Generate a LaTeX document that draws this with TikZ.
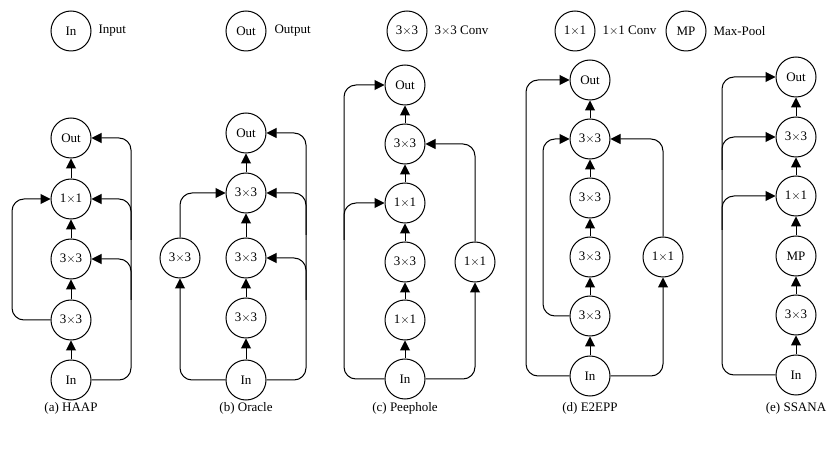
\documentclass[tikz,border=0pt]{standalone}
\usepackage{fontspec}
\setmainfont{Liberation Serif}
\usetikzlibrary{arrows.meta}
\begin{document}
\begin{tikzpicture}[x=1pt,y=-1pt,
  op/.style={draw,circle,line width=1pt,minimum size=40pt,inner sep=0pt,font=\fontsize{13}{15}\selectfont},
  arr/.style={line width=1pt,-{Triangle[length=10pt,width=10pt]},rounded corners=12pt},
  lbl/.style={font=\fontsize{13}{15}\selectfont,anchor=west},
  captxt/.style={font=\fontsize{13}{15}\selectfont}]
\useasboundingbox (0,0) rectangle (831,449);
% legend
\node[op] (lin) at (71,31) {In}; \node[lbl] at (95,31) {Input};
\node[op] (lout) at (246,31) {Out}; \node[lbl] at (271,31) {Output};
\node[op] (l33) at (407,31) {3$\times$3}; \node[lbl] at (431,31) {3$\times$3 Conv};
\node[op] (l11) at (575,31) {1$\times$1}; \node[lbl] at (599,31) {1$\times$1 Conv};
\node[op] (lmp) at (686,31) {MP}; \node[lbl] at (710,31) {Max-Pool};
% (a)
\node[op] (a0) at (71,380) {In};
\node[op] (a1) at (71,320) {3$\times$3};
\node[op] (a2) at (71,259) {3$\times$3};
\node[op] (a3) at (71,199) {1$\times$1};
\node[op] (a4) at (71,138) {Out};
\foreach \i/\j in {0/1,1/2,2/3,3/4} \draw[arr] (a\i) -- (a\j);
\draw[arr] (a0.east) -- (131,380) -- (131,138) -- (a4.east);
\draw[arr] (131,300) |- (a2.east);
\draw[arr] (131,240) |- (a3.east);
\draw[arr] (a1.west) -- (12,320) -- (12,199) -- (a3.west);
\node[captxt] (ca) at (71,408) {(a) HAAP};
% (b)
\node[op] (b0) at (246,380) {In};
\node[op] (b1) at (246,318) {3$\times$3};
\node[op] (b2) at (246,258) {3$\times$3};
\node[op] (b3) at (246,193) {3$\times$3};
\node[op] (b4) at (246,133) {Out};
\node[op] (bs) at (180,258) {3$\times$3};
\foreach \i/\j in {0/1,1/2,2/3,3/4} \draw[arr] (b\i) -- (b\j);
\draw[arr] (b0.east) -- (306,380) -- (306,133) -- (b4.east);
\draw[arr] (306,300) |- (b2.east);
\draw[arr] (306,235) |- (b3.east);
\draw[arr] (b0.west) -| (bs.south);
\draw[arr] (bs.north) |- (b3.west);
\node[captxt] (cb) at (246,408) {(b) Oracle};
% (c)
\node[op] (c0) at (405,379) {In};
\node[op] (c1) at (405,320) {1$\times$1};
\node[op] (c2) at (405,262) {3$\times$3};
\node[op] (c3) at (405,203) {1$\times$1};
\node[op] (c4) at (405,144) {3$\times$3};
\node[op] (c5) at (405,85) {Out};
\node[op] (cs) at (475,262) {1$\times$1};
\foreach \i/\j in {0/1,1/2,2/3,3/4,4/5} \draw[arr] (c\i) -- (c\j);
\draw[arr] (c0.west) -- (344,379) -- (344,85) -- (c5.west);
\draw[arr] (344,240) |- (c3.west);
\draw[arr] (c0.east) -| (cs.south);
\draw[arr] (cs.north) |- (c4.east);
\node[captxt] (cc) at (405,408) {(c) Peephole};
% (d)
\node[op] (d0) at (590,376) {In};
\node[op] (d1) at (590,316) {3$\times$3};
\node[op] (d2) at (590,257) {3$\times$3};
\node[op] (d3) at (590,198) {3$\times$3};
\node[op] (d4) at (590,139) {3$\times$3};
\node[op] (d5) at (590,80) {Out};
\node[op] (ds) at (663,257) {1$\times$1};
\foreach \i/\j in {0/1,1/2,2/3,3/4,4/5} \draw[arr] (d\i) -- (d\j);
\draw[arr] (d0.west) -- (526,376) -- (526,80) -- (d5.west);
\draw[arr] (d1.west) -- (543,316) -- (543,139) -- (d4.west);
\draw[arr] (d0.east) -| (ds.south);
\draw[arr] (ds.north) |- (d4.east);
\node[captxt] (cd) at (590,408) {(d) E2EPP};
% (e)
\node[op] (e0) at (796,375) {In};
\node[op] (e1) at (796,315) {3$\times$3};
\node[op] (e2) at (796,256) {MP};
\node[op] (e3) at (796,196) {1$\times$1};
\node[op] (e4) at (796,137) {3$\times$3};
\node[op] (e5) at (796,77) {Out};
\foreach \i/\j in {0/1,1/2,2/3,3/4,4/5} \draw[arr] (e\i) -- (e\j);
\draw[arr] (e0.west) -- (722,375) -- (722,77) -- (e5.west);
\draw[arr] (722,230) |- (e3.west);
\draw[arr] (722,170) |- (e4.west);
\node[captxt] (ce) at (796,408) {(e) SSANA};
\end{tikzpicture}
\end{document}
